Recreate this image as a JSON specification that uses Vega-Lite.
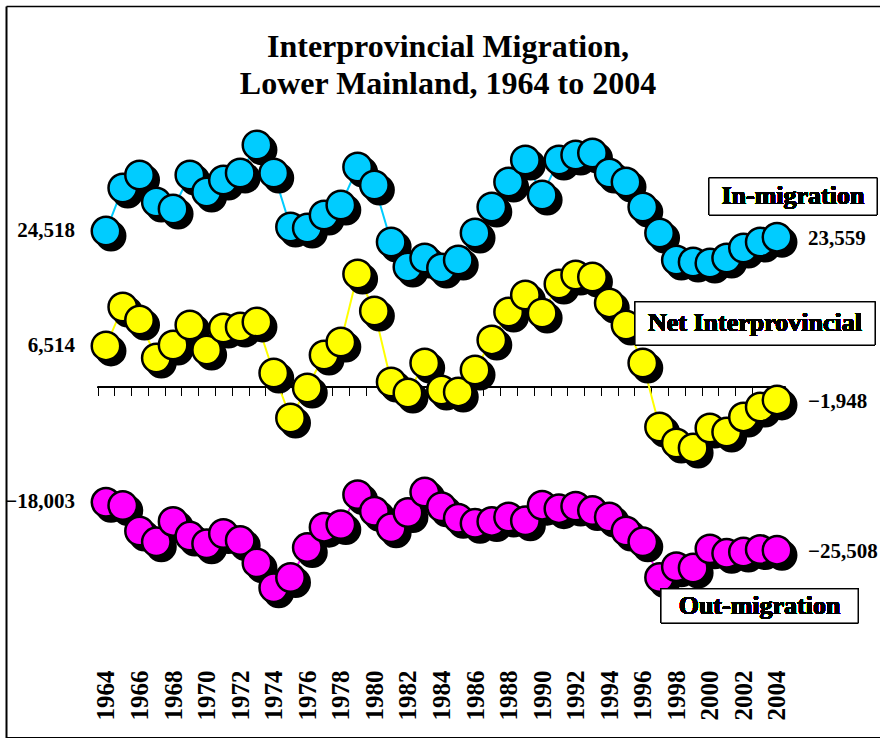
{
  "$schema": "https://vega.github.io/schema/vega-lite/v6.json",
  "width": 874,
  "height": 732,
  "autosize": {"type": "none"},
  "padding": {"left": 6, "top": 6, "right": 0, "bottom": 0},
  "background": "white",
  "title": {
    "text": ["Interprovincial Migration,", "Lower Mainland, 1964 to 2004"],
    "font": "Liberation Serif",
    "fontSize": 32,
    "fontWeight": "bold",
    "color": "black",
    "anchor": "middle",
    "frame": "group",
    "baseline": "top",
    "offset": -95,
    "lineHeight": 37,
    "dx": 5
  },
  "config": {
    "view": {"stroke": null},
    "axis": {"grid": false, "title": null}
  },
  "data": {
    "values": [
      {"year": 1964, "series": "In-migration", "value": 24518},
      {"year": 1965, "series": "In-migration", "value": 31270},
      {"year": 1966, "series": "In-migration", "value": 33300},
      {"year": 1967, "series": "In-migration", "value": 29080},
      {"year": 1968, "series": "In-migration", "value": 27980},
      {"year": 1969, "series": "In-migration", "value": 33300},
      {"year": 1970, "series": "In-migration", "value": 30640},
      {"year": 1971, "series": "In-migration", "value": 32520},
      {"year": 1972, "series": "In-migration", "value": 33620},
      {"year": 1973, "series": "In-migration", "value": 38010},
      {"year": 1974, "series": "In-migration", "value": 33620},
      {"year": 1975, "series": "In-migration", "value": 25160},
      {"year": 1976, "series": "In-migration", "value": 25000},
      {"year": 1977, "series": "In-migration", "value": 27040},
      {"year": 1978, "series": "In-migration", "value": 28600},
      {"year": 1979, "series": "In-migration", "value": 34560},
      {"year": 1980, "series": "In-migration", "value": 31740},
      {"year": 1981, "series": "In-migration", "value": 22810},
      {"year": 1982, "series": "In-migration", "value": 18890},
      {"year": 1983, "series": "In-migration", "value": 20300},
      {"year": 1984, "series": "In-migration", "value": 18730},
      {"year": 1985, "series": "In-migration", "value": 19980},
      {"year": 1986, "series": "In-migration", "value": 24220},
      {"year": 1987, "series": "In-migration", "value": 28290},
      {"year": 1988, "series": "In-migration", "value": 32210},
      {"year": 1989, "series": "In-migration", "value": 35660},
      {"year": 1990, "series": "In-migration", "value": 30170},
      {"year": 1991, "series": "In-migration", "value": 35660},
      {"year": 1992, "series": "In-migration", "value": 36440},
      {"year": 1993, "series": "In-migration", "value": 36760},
      {"year": 1994, "series": "In-migration", "value": 33620},
      {"year": 1995, "series": "In-migration", "value": 32210},
      {"year": 1996, "series": "In-migration", "value": 28290},
      {"year": 1997, "series": "In-migration", "value": 24220},
      {"year": 1998, "series": "In-migration", "value": 19980},
      {"year": 1999, "series": "In-migration", "value": 19670},
      {"year": 2000, "series": "In-migration", "value": 19510},
      {"year": 2001, "series": "In-migration", "value": 20300},
      {"year": 2002, "series": "In-migration", "value": 21870},
      {"year": 2003, "series": "In-migration", "value": 22810},
      {"year": 2004, "series": "In-migration", "value": 23559},
      {"year": 1964, "series": "Net Interprovincial", "value": 6514},
      {"year": 1965, "series": "Net Interprovincial", "value": 12620},
      {"year": 1966, "series": "Net Interprovincial", "value": 10580},
      {"year": 1967, "series": "Net Interprovincial", "value": 4620},
      {"year": 1968, "series": "Net Interprovincial", "value": 6660},
      {"year": 1969, "series": "Net Interprovincial", "value": 9800},
      {"year": 1970, "series": "Net Interprovincial", "value": 5880},
      {"year": 1971, "series": "Net Interprovincial", "value": 9330},
      {"year": 1972, "series": "Net Interprovincial", "value": 9480},
      {"year": 1973, "series": "Net Interprovincial", "value": 10270},
      {"year": 1974, "series": "Net Interprovincial", "value": 2270},
      {"year": 1975, "series": "Net Interprovincial", "value": -4780},
      {"year": 1976, "series": "Net Interprovincial", "value": -80},
      {"year": 1977, "series": "Net Interprovincial", "value": 5090},
      {"year": 1978, "series": "Net Interprovincial", "value": 7130},
      {"year": 1979, "series": "Net Interprovincial", "value": 17790},
      {"year": 1980, "series": "Net Interprovincial", "value": 11990},
      {"year": 1981, "series": "Net Interprovincial", "value": 860},
      {"year": 1982, "series": "Net Interprovincial", "value": -860},
      {"year": 1983, "series": "Net Interprovincial", "value": 3840},
      {"year": 1984, "series": "Net Interprovincial", "value": -390},
      {"year": 1985, "series": "Net Interprovincial", "value": -700},
      {"year": 1986, "series": "Net Interprovincial", "value": 2740},
      {"year": 1987, "series": "Net Interprovincial", "value": 7450},
      {"year": 1988, "series": "Net Interprovincial", "value": 11830},
      {"year": 1989, "series": "Net Interprovincial", "value": 14500},
      {"year": 1990, "series": "Net Interprovincial", "value": 11680},
      {"year": 1991, "series": "Net Interprovincial", "value": 16220},
      {"year": 1992, "series": "Net Interprovincial", "value": 17630},
      {"year": 1993, "series": "Net Interprovincial", "value": 17320},
      {"year": 1994, "series": "Net Interprovincial", "value": 13250},
      {"year": 1995, "series": "Net Interprovincial", "value": 9800},
      {"year": 1996, "series": "Net Interprovincial", "value": 3840},
      {"year": 1997, "series": "Net Interprovincial", "value": -6190},
      {"year": 1998, "series": "Net Interprovincial", "value": -8700},
      {"year": 1999, "series": "Net Interprovincial", "value": -9480},
      {"year": 2000, "series": "Net Interprovincial", "value": -6350},
      {"year": 2001, "series": "Net Interprovincial", "value": -6980},
      {"year": 2002, "series": "Net Interprovincial", "value": -4620},
      {"year": 2003, "series": "Net Interprovincial", "value": -3060},
      {"year": 2004, "series": "Net Interprovincial", "value": -1948},
      {"year": 1964, "series": "Out-migration", "value": -18003},
      {"year": 1965, "series": "Out-migration", "value": -18500},
      {"year": 1966, "series": "Out-migration", "value": -22500},
      {"year": 1967, "series": "Out-migration", "value": -24200},
      {"year": 1968, "series": "Out-migration", "value": -21000},
      {"year": 1969, "series": "Out-migration", "value": -23300},
      {"year": 1970, "series": "Out-migration", "value": -24500},
      {"year": 1971, "series": "Out-migration", "value": -22900},
      {"year": 1972, "series": "Out-migration", "value": -24000},
      {"year": 1973, "series": "Out-migration", "value": -27500},
      {"year": 1974, "series": "Out-migration", "value": -31400},
      {"year": 1975, "series": "Out-migration", "value": -29800},
      {"year": 1976, "series": "Out-migration", "value": -25100},
      {"year": 1977, "series": "Out-migration", "value": -21900},
      {"year": 1978, "series": "Out-migration", "value": -21500},
      {"year": 1979, "series": "Out-migration", "value": -16800},
      {"year": 1980, "series": "Out-migration", "value": -19400},
      {"year": 1981, "series": "Out-migration", "value": -22000},
      {"year": 1982, "series": "Out-migration", "value": -19600},
      {"year": 1983, "series": "Out-migration", "value": -16400},
      {"year": 1984, "series": "Out-migration", "value": -18700},
      {"year": 1985, "series": "Out-migration", "value": -20500},
      {"year": 1986, "series": "Out-migration", "value": -21300},
      {"year": 1987, "series": "Out-migration", "value": -21000},
      {"year": 1988, "series": "Out-migration", "value": -20300},
      {"year": 1989, "series": "Out-migration", "value": -20900},
      {"year": 1990, "series": "Out-migration", "value": -18450},
      {"year": 1991, "series": "Out-migration", "value": -19000},
      {"year": 1992, "series": "Out-migration", "value": -18600},
      {"year": 1993, "series": "Out-migration", "value": -19300},
      {"year": 1994, "series": "Out-migration", "value": -20300},
      {"year": 1995, "series": "Out-migration", "value": -22500},
      {"year": 1996, "series": "Out-migration", "value": -24200},
      {"year": 1997, "series": "Out-migration", "value": -29800},
      {"year": 1998, "series": "Out-migration", "value": -28100},
      {"year": 1999, "series": "Out-migration", "value": -28300},
      {"year": 2000, "series": "Out-migration", "value": -25300},
      {"year": 2001, "series": "Out-migration", "value": -26000},
      {"year": 2002, "series": "Out-migration", "value": -25800},
      {"year": 2003, "series": "Out-migration", "value": -25400},
      {"year": 2004, "series": "Out-migration", "value": -25508}
    ]
  },
  "resolve": {"axis": {"x": "independent", "y": "independent"}},
  "layer": [
    {
      "mark": {"type": "rule", "color": "black", "strokeWidth": 1},
      "encoding": {
        "x": {"datum": 1963.5, "type": "quantitative", "scale": {"domain": [1958.04, 2010.14], "nice": false, "zero": false}, "axis": null},
        "x2": {"datum": 2004.5},
        "y": {"datum": 0, "type": "quantitative", "scale": {"domain": [-54950, 59800], "nice": false, "zero": false}, "axis": null}
      }
    },
    {
      "mark": {"type": "line", "strokeWidth": 2},
      "encoding": {
        "x": {
          "field": "year", "type": "quantitative",
          "scale": {"domain": [1958.04, 2010.14], "nice": false, "zero": false},
          "axis": {
            "orient": "bottom", "offset": -350.5, "domain": false, "labels": false,
            "ticks": true, "tickSize": 8, "tickColor": "black", "tickWidth": 1,
            "values": [1963.5, 1964.5, 1965.5, 1966.5, 1967.5, 1968.5, 1969.5, 1970.5, 1971.5, 1972.5, 1973.5, 1974.5, 1975.5, 1976.5, 1977.5, 1978.5, 1979.5, 1980.5, 1981.5, 1982.5, 1983.5, 1984.5, 1985.5, 1986.5, 1987.5, 1988.5, 1989.5, 1990.5, 1991.5, 1992.5, 1993.5, 1994.5, 1995.5, 1996.5, 1997.5, 1998.5, 1999.5, 2000.5, 2001.5, 2002.5, 2003.5, 2004.5]
          }
        },
        "y": {"field": "value", "type": "quantitative", "scale": {"domain": [-54950, 59800], "nice": false, "zero": false}, "axis": null},
        "color": {
          "field": "series", "type": "nominal",
          "scale": {"domain": ["In-migration", "Net Interprovincial", "Out-migration"], "range": ["#00CCFF", "#FFFF00", "#FF00FF"]},
          "legend": null
        }
      }
    },
    {
      "mark": {"type": "point", "filled": true, "color": "black", "stroke": "black", "strokeWidth": 2.5, "opacity": 1, "size": 810, "xOffset": 5, "yOffset": 5},
      "encoding": {
        "x": {
          "field": "year", "type": "quantitative",
          "scale": {"domain": [1958.04, 2010.14], "nice": false, "zero": false},
          "axis": {"orient": "top", "domain": true, "domainColor": "black", "domainWidth": 1.5, "ticks": false, "tickSize": 0, "labels": false}
        },
        "y": {
          "field": "value", "type": "quantitative",
          "scale": {"domain": [-54950, 59800], "nice": false, "zero": false},
          "axis": {"orient": "left", "domain": true, "domainColor": "black", "domainWidth": 2, "ticks": false, "tickSize": 0, "labels": false}
        }
      }
    },
    {
      "mark": {"type": "point", "filled": true, "opacity": 1, "size": 810, "stroke": "black", "strokeWidth": 2.5},
      "encoding": {
        "x": {
          "field": "year", "type": "quantitative",
          "scale": {"domain": [1958.04, 2010.14], "nice": false, "zero": false},
          "axis": {
            "orient": "bottom", "domain": true, "domainColor": "black", "domainWidth": 3,
            "ticks": false, "tickSize": 0,
            "values": [1964, 1966, 1968, 1970, 1972, 1974, 1976, 1978, 1980, 1982, 1984, 1986, 1988, 1990, 1992, 1994, 1996, 1998, 2000, 2002, 2004],
            "format": "d", "labelAngle": -90, "labelAlign": "left", "labelBaseline": "middle",
            "labelPadding": -18, "labelFont": "Liberation Serif", "labelFontSize": 25, "labelFontWeight": "bold",
            "labelColor": "black", "labelOverlap": false, "labelFlush": false, "labelBound": false
          }
        },
        "y": {"field": "value", "type": "quantitative", "scale": {"domain": [-54950, 59800], "nice": false, "zero": false}, "axis": null},
        "color": {
          "field": "series", "type": "nominal",
          "scale": {"domain": ["In-migration", "Net Interprovincial", "Out-migration"], "range": ["#00CCFF", "#FFFF00", "#FF00FF"]},
          "legend": null
        }
      }
    },
    {
      "transform": [{"filter": "datum.year == 1964"}],
      "mark": {"type": "text", "align": "right", "baseline": "middle", "dx": -31, "dy": 0, "font": "Liberation Serif", "fontSize": 21, "fontWeight": "bold", "color": "black"},
      "encoding": {
        "x": {"field": "year", "type": "quantitative", "scale": {"domain": [1958.04, 2010.14], "nice": false, "zero": false}, "axis": null},
        "y": {"field": "value", "type": "quantitative", "scale": {"domain": [-54950, 59800], "nice": false, "zero": false}, "axis": null},
        "text": {"field": "value", "type": "quantitative", "format": ","}
      }
    },
    {
      "transform": [{"filter": "datum.year == 2004"}],
      "mark": {"type": "text", "align": "left", "baseline": "middle", "dx": 31, "dy": 2, "font": "Liberation Serif", "fontSize": 21, "fontWeight": "bold", "color": "black"},
      "encoding": {
        "x": {"field": "year", "type": "quantitative", "scale": {"domain": [1958.04, 2010.14], "nice": false, "zero": false}, "axis": null},
        "y": {"field": "value", "type": "quantitative", "scale": {"domain": [-54950, 59800], "nice": false, "zero": false}, "axis": null},
        "text": {"field": "value", "type": "quantitative", "format": ","}
      }
    },
    {
      "mark": {"type": "rect", "fill": "white", "stroke": "black", "strokeWidth": 1},
      "encoding": {
        "x": {"datum": 1999.95, "type": "quantitative", "scale": {"domain": [1958.04, 2010.14], "nice": false, "zero": false}, "axis": null},
        "x2": {"datum": 2009.96},
        "y": {"datum": 32837, "type": "quantitative", "scale": {"domain": [-54950, 59800], "nice": false, "zero": false}, "axis": null},
        "y2": {"datum": 27038}
      }
    },
    {
      "mark": {"type": "rect", "fill": "white", "stroke": "black", "strokeWidth": 1},
      "encoding": {
        "x": {"datum": 1995.54, "type": "quantitative", "scale": {"domain": [1958.04, 2010.14], "nice": false, "zero": false}, "axis": null},
        "x2": {"datum": 2009.84},
        "y": {"datum": 13401, "type": "quantitative", "scale": {"domain": [-54950, 59800], "nice": false, "zero": false}, "axis": null},
        "y2": {"datum": 6661}
      }
    },
    {
      "mark": {"type": "rect", "fill": "white", "stroke": "black", "strokeWidth": 1},
      "encoding": {
        "x": {"datum": 1997.09, "type": "quantitative", "scale": {"domain": [1958.04, 2010.14], "nice": false, "zero": false}, "axis": null},
        "x2": {"datum": 2008.83},
        "y": {"datum": -31583, "type": "quantitative", "scale": {"domain": [-54950, 59800], "nice": false, "zero": false}, "axis": null},
        "y2": {"datum": -36912}
      }
    },
    {
      "mark": {"type": "text", "align": "center", "baseline": "middle", "font": "Liberation Serif", "fontSize": 26, "fontWeight": "bold", "color": "black", "text": "In-migration"},
      "encoding": {
        "x": {"datum": 2004.95, "type": "quantitative", "scale": {"domain": [1958.04, 2010.14], "nice": false, "zero": false}, "axis": null},
        "y": {"datum": 29937, "type": "quantitative", "scale": {"domain": [-54950, 59800], "nice": false, "zero": false}, "axis": null}
      }
    },
    {
      "mark": {"type": "text", "align": "center", "baseline": "middle", "font": "Liberation Serif", "fontSize": 26, "fontWeight": "bold", "color": "black", "text": "Net Interprovincial"},
      "encoding": {
        "x": {"datum": 2002.69, "type": "quantitative", "scale": {"domain": [1958.04, 2010.14], "nice": false, "zero": false}, "axis": null},
        "y": {"datum": 10031, "type": "quantitative", "scale": {"domain": [-54950, 59800], "nice": false, "zero": false}, "axis": null}
      }
    },
    {
      "mark": {"type": "text", "align": "center", "baseline": "middle", "font": "Liberation Serif", "fontSize": 26, "fontWeight": "bold", "color": "black", "text": "Out-migration"},
      "encoding": {
        "x": {"datum": 2002.96, "type": "quantitative", "scale": {"domain": [1958.04, 2010.14], "nice": false, "zero": false}, "axis": null},
        "y": {"datum": -34248, "type": "quantitative", "scale": {"domain": [-54950, 59800], "nice": false, "zero": false}, "axis": null}
      }
    }
  ]
}
